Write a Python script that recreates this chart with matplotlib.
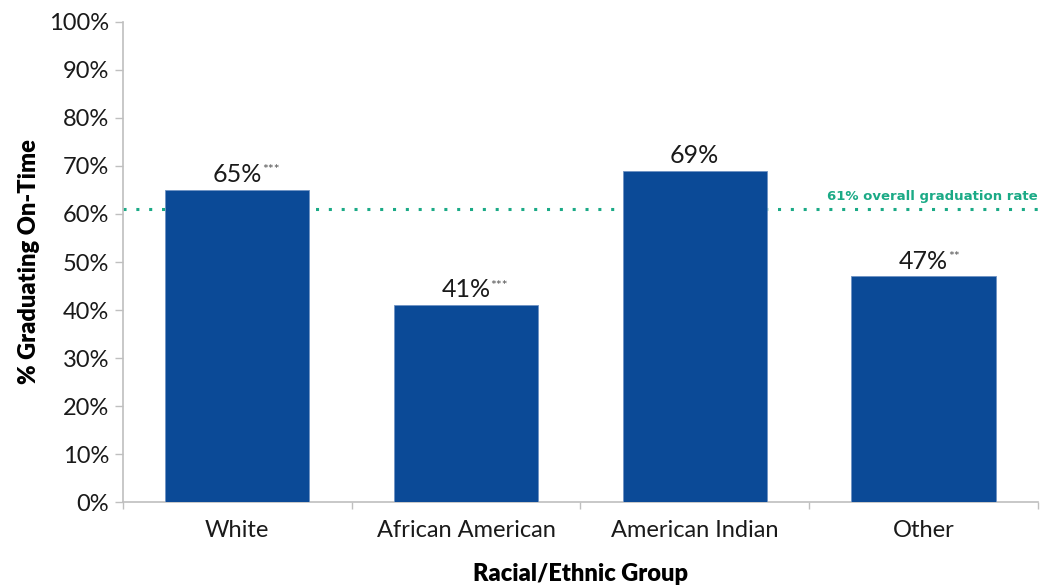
import numpy as np
import matplotlib.pyplot as plt

groups = ['White', 'African American', 'American Indian', 'Other']
grad_rates = [65, 41, 69, 47]
stars = ['***', '***', '', '**']
overall_rate = 61
y_ticks = list(range(0, 101, 10))

bar_color = '#0B4A97'
line_color = '#1BAA86'
spine_color = '#BFBFBF'

plt.rcParams['font.family'] = ['Lato', 'DejaVu Sans']

fig = plt.figure(figsize=(10.41, 5.86), dpi=100)
ax = fig.add_axes([0.118, 0.1433, 0.879, 0.8192])

x = np.arange(len(groups))
bars = ax.bar(x, grad_rates, width=0.63, color=bar_color,
              edgecolor='#6F93C4', linewidth=0.6, zorder=3)

ax.axhline(overall_rate, color=line_color, ls=(0, (1, 3.2)), lw=2.2, zorder=2)
ax.text(len(groups) - 0.5, overall_rate + 1.3,
        f'{overall_rate}% overall graduation rate',
        ha='right', va='bottom', color=line_color, fontsize=9.5,
        fontweight='bold', family=['DejaVu Sans'])

for xi, val, st in zip(x, grad_rates, stars):
    t = ax.text(xi, val + 0.8, f'{val}%', ha='center', va='bottom',
                fontsize=18, color='#1A1A1A', zorder=4)
    if st:
        ax.annotate(st, xy=(1.0, 0.95), xycoords=t, ha='left', va='top',
                    fontsize=10, color='#555555')

ax.set_xlim(-0.5, len(groups) - 0.5)
ax.set_ylim(0, 100)
ax.set_yticks(y_ticks)
ax.set_yticklabels([f'{v}%' for v in y_ticks], fontsize=17, color='#1A1A1A')
ax.set_xticks(x)
ax.set_xticklabels(groups, fontsize=17, color='#1A1A1A')

# category separators as minor ticks on the x axis
ax.set_xticks(np.arange(-0.5, len(groups)), minor=True)
ax.tick_params(axis='x', which='major', length=0, pad=13)
ax.tick_params(axis='x', which='minor', length=5, color=spine_color, width=1)
ax.tick_params(axis='y', length=6, color=spine_color, width=1, pad=4)

for side in ['top', 'right']:
    ax.spines[side].set_visible(False)
for side in ['left', 'bottom']:
    ax.spines[side].set_color(spine_color)
    ax.spines[side].set_linewidth(1.2)

ax.set_ylabel('% Graduating On-Time', fontsize=17, fontweight='heavy', labelpad=6)
ax.set_xlabel('Racial/Ethnic Group', fontsize=17, fontweight='heavy', labelpad=16)

fig.savefig('out.png', dpi=100)
